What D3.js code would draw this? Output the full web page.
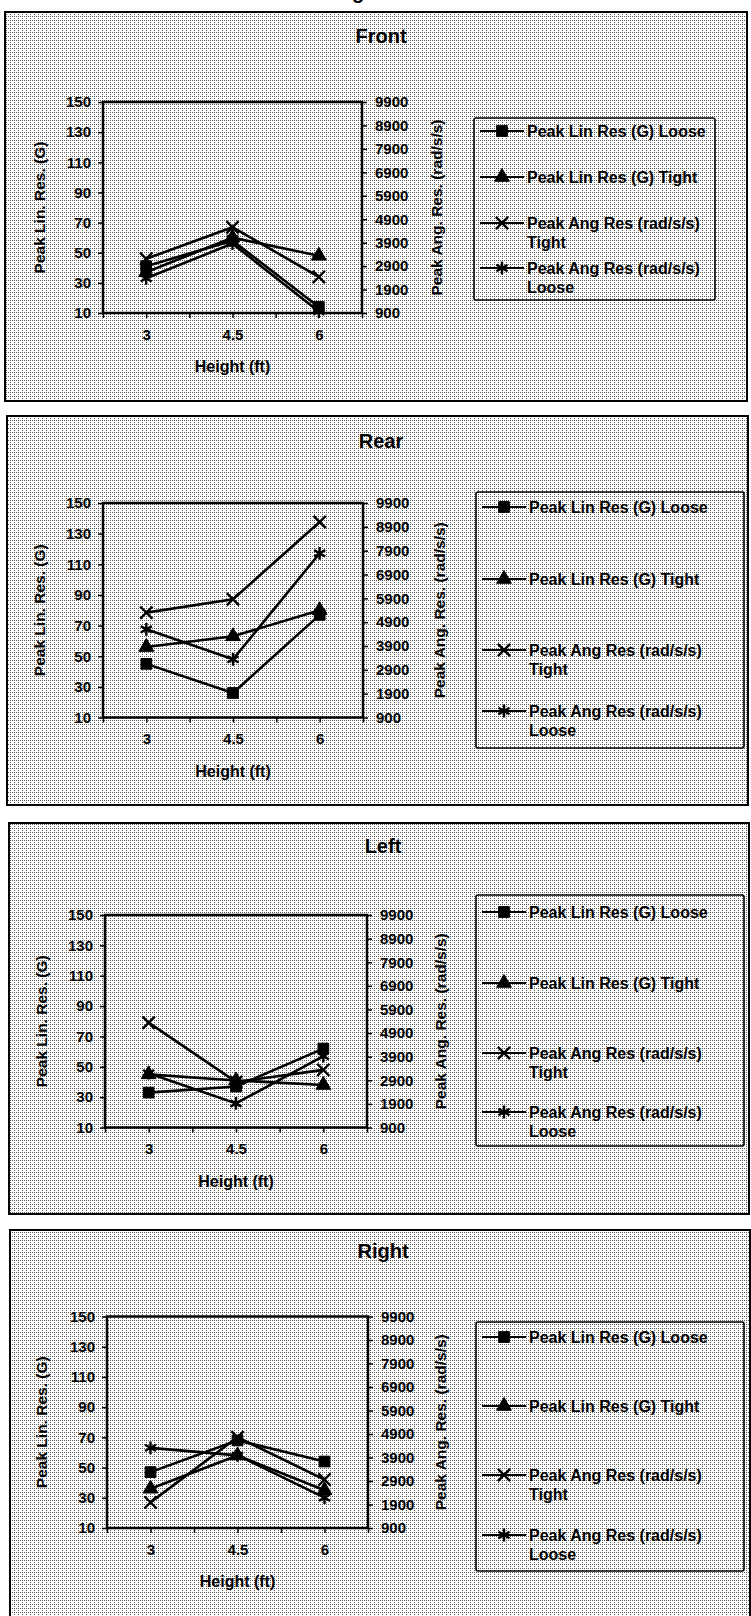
<!DOCTYPE html>
<html>
<head>
<meta charset="utf-8">
<script src="https://cdn.jsdelivr.net/npm/d3@7"></script>
<style>
  html, body { margin: 0; padding: 0; background: #fff; }
  svg { display: block; }
  text { font-family: "Liberation Sans", Arial, sans-serif; font-weight: bold; fill: #000; }
</style>
</head>
<body>
<script>
// ---------------- DATA ----------------
const heights = [3, 4.5, 6];                 // Height (ft)
const xTickValues = [2.25, 3, 3.75, 4.5, 5.25, 6, 6.75];
const xTickLabels = ["", "3", "", "4.5", "", "6", ""];
const leftTicks = [10, 30, 50, 70, 90, 110, 130, 150];
const rightTicks = [900, 1900, 2900, 3900, 4900, 5900, 6900, 7900, 8900, 9900];
const panelTitles = ["Front", "Rear", "Left", "Right"];
const seriesNames = ["Peak Lin Res (G) Loose", "Peak Lin Res (G) Tight", "Peak Ang Res (rad/s/s)|Tight", "Peak Ang Res (rad/s/s)|Loose"];

// Peak linear response (G), left axis
const frontLinLoose = [41, 58, 14];
const frontLinTight = [37, 60, 48];
const rearLinLoose  = [45, 26, 77];
const rearLinTight  = [56, 63, 80];
const leftLinLoose  = [33, 37, 62];
const leftLinTight  = [45, 41, 38];
const rightLinLoose = [47, 68, 54];
const rightLinTight = [36, 58, 35];

// Peak angular response (rad/s/s), right axis
const frontAngTight = [3210, 4560, 2440];
const frontAngLoose = [2380, 3860, 960];
const rearAngTight  = [5300, 5860, 9100];
const rearAngLoose  = [4600, 3340, 7790];
const leftAngTight  = [5340, 2830, 3340];
const leftAngLoose  = [3200, 1920, 3920];
const rightAngTight = [1990, 4760, 2960];
const rightAngLoose = [4310, 3990, 2190];

const panelData = [
  [frontLinLoose, frontLinTight, frontAngTight, frontAngLoose],
  [rearLinLoose,  rearLinTight,  rearAngTight,  rearAngLoose],
  [leftLinLoose,  leftLinTight,  leftAngTight,  leftAngLoose],
  [rightLinLoose, rightLinTight, rightAngTight, rightAngLoose]
];

// ---------------- LAYOUT ----------------
const layout = [
  { box: [5, 12, 747, 401],    plot: [103, 102, 362, 313],    titleY: 43,   titleX: 381,
    leg: { box: [474, 118, 715, 300],  rows: [131, 177, 223, 268] },    yT: 40, y2T: 437 },
  { box: [7, 416, 748, 805],   plot: [103, 503, 363, 717.5],  titleY: 448,  titleX: 381,
    leg: { box: [476, 492, 744, 748],  rows: [507, 579, 650, 711] },    yT: 40, y2T: 440 },
  { box: [9, 823, 749, 1214],  plot: [105, 915, 367, 1127.5], titleY: 853,  titleX: 383,
    leg: { box: [476, 895, 744, 1146], rows: [912, 983, 1053, 1112] },  yT: 42, y2T: 441 },
  { box: [10, 1230, 750, 1640], plot: [107, 1316.5, 368, 1528], titleY: 1258, titleX: 383,
    leg: { box: [476, 1322, 744, 1571], rows: [1337, 1406, 1475, 1535] }, yT: 42, y2T: 441 }
];

// ---------------- DRAW ----------------
const svg = d3.select("body").append("svg").attr("width", 751).attr("height", 1616);

const defs = svg.append("defs");
const pat = defs.append("pattern").attr("id", "dither")
  .attr("patternUnits", "userSpaceOnUse").attr("width", 4).attr("height", 4);
pat.append("rect").attr("width", 4).attr("height", 4).attr("fill", "#fff");
[[0, 0], [2, 2], [2, 0]].forEach(([dx, dy]) =>
  pat.append("rect").attr("x", dx).attr("y", dy).attr("width", 1).attr("height", 1).attr("fill", "#5a5a5a"));

// cut-off caption fragment at the very top (as in the scanned source)
svg.append("text").attr("x", 352).attr("y", -1).style("font-size", "20px").text("g");

const markerFns = [
  d3.symbol().type(d3.symbolSquare).size(115),
  d3.symbol().type(d3.symbolTriangle).size(95),
  d3.symbol().type(d3.symbolTimes).size(100),
  d3.symbol().type(d3.symbolAsterisk).size(115)
];
const markerFilled = [true, true, false, false];

function drawMarker(g, i, x, y) {
  g.append("path").attr("d", markerFns[i]())
    .attr("transform", `translate(${x},${y})`)
    .attr("fill", markerFilled[i] ? "#000" : "none")
    .attr("stroke", "#000")
    .attr("stroke-width", markerFilled[i] ? 1 : 2.4);
}

panelTitles.forEach((title, p) => {
  const L = layout[p];
  const g = svg.append("g");
  const [bx0, by0, bx1, by1] = L.box;
  g.append("rect").attr("x", bx0).attr("y", by0).attr("width", bx1 - bx0).attr("height", by1 - by0)
    .attr("fill", "url(#dither)").attr("stroke", "#000").attr("stroke-width", 2);

  g.append("text").attr("x", L.titleX).attr("y", L.titleY).attr("text-anchor", "middle")
    .style("font-size", "20px").text(title);

  const [px0, py0, px1, py1] = L.plot;
  const x = d3.scaleLinear().domain([2.25, 6.75]).range([px0, px1]);
  const yL = d3.scaleLinear().domain([10, 150]).range([py1, py0]);
  const yR = d3.scaleLinear().domain([900, 9900]).range([py1, py0]);

  const axB = d3.axisBottom(x).tickValues(xTickValues).tickSize(5)
    .tickFormat((d, i) => xTickLabels[i]);
  const axL = d3.axisLeft(yL).tickValues(leftTicks).tickSize(5).tickFormat(d3.format("d"));
  const axR = d3.axisRight(yR).tickValues(rightTicks).tickSize(5).tickFormat(d3.format("d"));

  const gB = g.append("g").attr("transform", `translate(0,${py1})`).call(axB);
  const gL = g.append("g").attr("transform", `translate(${px0},0)`).call(axL);
  const gR = g.append("g").attr("transform", `translate(${px1},0)`).call(axR);
  [gB, gL, gR].forEach(a => {
    a.select(".domain").remove();
    a.selectAll(".tick line").attr("stroke", "#000").attr("stroke-width", 1.5);
    a.selectAll(".tick text").style("font-size", "15px").style("font-family", "'Liberation Sans', Arial, sans-serif")
      .style("font-weight", "bold").attr("fill", "#000");
  });
  gB.selectAll(".tick text").attr("y", 16);
  gL.selectAll(".tick text").attr("x", -12);
  gR.selectAll(".tick text").attr("x", 13);

  g.append("rect").attr("x", px0).attr("y", py0).attr("width", px1 - px0).attr("height", py1 - py0)
    .attr("fill", "none").attr("stroke", "#000").attr("stroke-width", 2.5);

  g.append("text").attr("x", (px0 + px1) / 2).attr("y", py1 + 59).attr("text-anchor", "middle")
    .style("font-size", "16px").text("Height (ft)");
  g.append("text").attr("transform", `translate(${L.yT},${(py0 + py1) / 2}) rotate(-90)`)
    .attr("text-anchor", "middle").attr("dy", "0.35em").style("font-size", "15.5px").text("Peak Lin. Res. (G)");
  g.append("text").attr("transform", `translate(${L.y2T},${(py0 + py1) / 2}) rotate(-90)`)
    .attr("text-anchor", "middle").attr("dy", "0.35em").style("font-size", "15.5px").text("Peak Ang. Res. (rad/s/s)");

  const scales = [yL, yL, yR, yR];
  panelData[p].forEach((vals, s) => {
    const ys = scales[s];
    const line = d3.line().x((d, i) => x(heights[i])).y(d => ys(d));
    g.append("path").datum(vals).attr("d", line)
      .attr("fill", "none").attr("stroke", "#000").attr("stroke-width", 2.6);
    vals.forEach((v, i) => drawMarker(g, s, x(heights[i]), ys(v)));
  });

  const lg = L.leg;
  const [lx0, ly0, lx1, ly1] = lg.box;
  g.append("rect").attr("x", lx0).attr("y", ly0).attr("width", lx1 - lx0).attr("height", ly1 - ly0)
    .attr("rx", 2).attr("fill", "none").attr("stroke", "#000").attr("stroke-width", 1.6);
  seriesNames.forEach((name, s) => {
    const yy = lg.rows[s];
    g.append("line").attr("x1", lx0 + 6).attr("x2", lx0 + 50).attr("y1", yy).attr("y2", yy)
      .attr("stroke", "#000").attr("stroke-width", 2);
    drawMarker(g, s, lx0 + 28, yy);
    const parts = name.split("|");
    const t = g.append("text").attr("x", lx0 + 53).attr("y", yy).style("font-size", "16px");
    parts.forEach((part, k) => {
      t.append("tspan").attr("x", lx0 + 53).attr("dy", k === 0 ? "0.35em" : "19px").text(part);
    });
  });
});
</script>
</body>
</html>
